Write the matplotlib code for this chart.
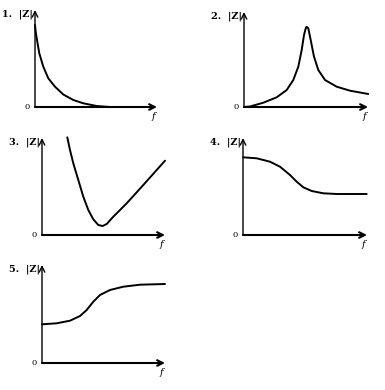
import matplotlib
matplotlib.use('Agg')
import matplotlib.pyplot as plt

# curve data, arbitrary units (f along x, |Z| up)
f1 = [0, 0.07, 0.2, 0.43, 0.83, 1.33, 2.0, 2.83, 3.83, 4.83, 6.17, 7.5, 9.0]
z1 = [8.2, 7.5, 6.7, 5.37, 4.03, 2.87, 2.03, 1.25, 0.7, 0.37, 0.1, 0.0, 0.0]

f2 = [0, 0.6, 1.93, 3.27, 4.27, 4.93, 5.43, 5.77, 6.0, 6.2, 6.3, 6.43,
      6.67, 7.0, 7.43, 8.1, 9.27, 10.6, 12.43]
z2 = [0, 0.05, 0.43, 0.97, 1.7, 2.7, 4.03, 5.7, 7.2, 7.97, 8.0, 7.87,
      6.7, 5.03, 3.7, 2.7, 2.03, 1.63, 1.3]

f3 = [2.53, 2.8, 3.13, 3.63, 4.13, 4.63, 5.13, 5.63, 6.07, 6.47, 7.13,
      8.47, 10.13, 12.3]
z3 = [9.77, 8.5, 7.17, 5.5, 3.83, 2.5, 1.57, 1.0, 0.9, 1.1, 1.83,
      3.17, 5.0, 7.43]

f4 = [0, 1.37, 2.7, 3.7, 4.7, 5.37, 6.03, 6.87, 8.03, 9.37, 12.37]
z4 = [7.77, 7.67, 7.33, 6.83, 6.0, 5.33, 4.77, 4.4, 4.17, 4.1, 4.1]

f5 = [0, 1.47, 2.8, 3.8, 4.47, 5.13, 5.8, 6.8, 8.13, 9.8, 12.3]
z5 = [3.87, 3.97, 4.23, 4.7, 5.3, 6.13, 6.8, 7.3, 7.63, 7.83, 7.9]

titles = ['1.  |Z|', '2.  |Z|', '3.  |Z|', '4.  |Z|', '5.  |Z|']

W, H = 385, 390
# origin x, origin y, x length, y length (pixels)
boxes = [(35, 107, 122, 97), (244, 107, 124, 95), (42, 235, 123, 97),
         (243, 235, 124, 97), (42, 363, 123, 98)]
curves = [(f1, z1), (f2, z2), (f3, z3), (f4, z4), (f5, z5)]

fig = plt.figure(figsize=(W / 100, H / 100), dpi=100)
fig.patch.set_facecolor('white')

for (x0, y0, xl, yl), (f, z), t in zip(boxes, curves, titles):
    ax = fig.add_axes([x0 / W, (H - y0) / H, xl / W, yl / H])
    ax.set_xlim(0, xl / 10)
    ax.set_ylim(0, yl / 10)
    ax.axis('off')
    ax.plot(f, z, color='black', lw=1.4, clip_on=False,
            solid_capstyle='round', solid_joinstyle='round')
    ax.annotate('', xy=(1.0, 0), xytext=(0, 0), xycoords='axes fraction',
                arrowprops=dict(arrowstyle='->', lw=1.5, color='black',
                                shrinkA=0, shrinkB=0))
    ax.annotate('', xy=(0, 1.0), xytext=(0, 0), xycoords='axes fraction',
                arrowprops=dict(arrowstyle='->', lw=1.0, color='black',
                                shrinkA=0, shrinkB=0))
    ax.text(-0.02, 0.96, t, transform=ax.transAxes, ha='right', va='center',
            fontsize=7, fontweight='bold', family='DejaVu Serif')
    ax.text(-0.04, 0.0, '0', transform=ax.transAxes, ha='right', va='center',
            fontsize=6, family='DejaVu Serif')
    ax.text(0.97, -0.1, 'f', transform=ax.transAxes, ha='center', va='center',
            fontsize=7, style='italic', family='DejaVu Serif')

fig.savefig('out.png', dpi=100)
